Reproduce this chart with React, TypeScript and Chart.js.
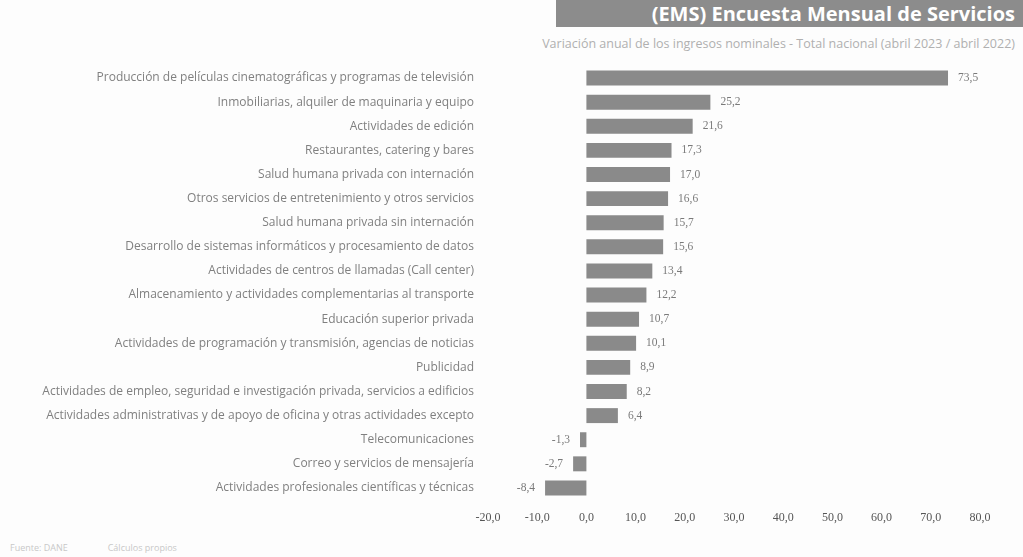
import React, { useEffect, useRef } from "react";
import { Chart, registerables } from "chart.js";

Chart.register(...registerables);

const categories: string[] = [
  "Producción de películas cinematográficas y programas de televisión",
  "Inmobiliarias, alquiler de maquinaria y equipo",
  "Actividades de edición",
  "Restaurantes, catering y bares",
  "Salud humana privada con internación",
  "Otros servicios de entretenimiento y otros servicios",
  "Salud humana privada sin internación",
  "Desarrollo de sistemas informáticos y procesamiento de datos",
  "Actividades de centros de llamadas (Call center)",
  "Almacenamiento y actividades complementarias al transporte",
  "Educación superior privada",
  "Actividades de programación y transmisión, agencias de noticias",
  "Publicidad",
  "Actividades de empleo, seguridad e investigación privada, servicios a edificios",
  "Actividades administrativas y de apoyo de oficina y otras actividades excepto",
  "Telecomunicaciones",
  "Correo y servicios de mensajería",
  "Actividades profesionales científicas y técnicas",
];

const variation: number[] = [
  73.5, 25.2, 21.6, 17.3, 17.0, 16.6, 15.7, 15.6, 13.4, 12.2, 10.7, 10.1, 8.9, 8.2, 6.4, -1.3, -2.7, -8.4,
];

const axisMin = -20;
const axisMax = 80;
const axisStep = 10;

const titleText = "(EMS) Encuesta Mensual de Servicios";
const subtitleText =
  "Variación anual de los ingresos nominales - Total nacional (abril 2023 / abril 2022)";
const sourceText = "Fuente: DANE";
const noteText = "Cálculos propios";

const fmt = (v: number) => v.toFixed(1).replace(".", ",");

const valueLabels = {
  id: "valueLabels",
  afterDatasetsDraw(chart: any) {
    const ctx = chart.ctx;
    const meta = chart.getDatasetMeta(0);
    const data = chart.data.datasets[0].data as number[];
    ctx.save();
    ctx.font = "11.5px 'Liberation Serif'";
    ctx.fillStyle = "#7a7a7a";
    ctx.textBaseline = "middle";
    meta.data.forEach((bar: any, i: number) => {
      const v = data[i];
      if (v >= 0) {
        ctx.textAlign = "left";
        ctx.fillText(fmt(v), bar.x + 10, bar.y);
      } else {
        ctx.textAlign = "right";
        ctx.fillText(fmt(v), bar.x - 10, bar.y);
      }
    });
    ctx.restore();
  },
};

export default function App() {
  const canvasRef = useRef<HTMLCanvasElement | null>(null);

  useEffect(() => {
    document.body.style.margin = "0";
    const canvas = canvasRef.current;
    if (!canvas) return;
    const chart = new Chart(canvas, {
      type: "bar",
      data: {
        labels: categories,
        datasets: [
          {
            data: variation,
            backgroundColor: "#8a8a8a",
            borderWidth: 0,
            barPercentage: 0.62,
            categoryPercentage: 1,
          },
        ],
      },
      options: {
        indexAxis: "y",
        responsive: false,
        animation: false,
        devicePixelRatio: 1,
        layout: { padding: { top: 17, right: 43, left: 0, bottom: 0 } },
        plugins: {
          legend: { display: false },
          tooltip: { enabled: false },
          title: { display: false },
        },
        scales: {
          x: {
            min: axisMin,
            max: axisMax,
            grid: { display: false },
            border: { display: false },
            ticks: {
              stepSize: axisStep,
              color: "#555",
              font: { family: "'Liberation Serif'", size: 12 },
              maxRotation: 0,
              padding: 3,
              callback: (v: any) => fmt(Number(v)),
            },
            afterFit: (s: any) => {
              s.height = 30;
            },
          },
          y: {
            grid: { display: false },
            border: { display: false },
            ticks: {
              color: "#808080",
              font: { family: "'Open Sans'", size: 12 },
              padding: 6,
              autoSkip: false,
            },
            afterFit: (s: any) => {
              s.width = 488;
            },
          },
        },
      },
      plugins: [valueLabels],
    } as any);
    return () => chart.destroy();
  }, []);

  return (
    <div
      style={{
        position: "relative",
        width: 1023,
        height: 557,
        background: "#fdfdfd",
        overflow: "hidden",
        fontFamily: "'Open Sans', sans-serif",
      }}
    >
      <div
        style={{
          position: "absolute",
          left: 556,
          top: 0,
          width: 467,
          height: 27,
          background: "#8c8c8c",
          color: "#fff",
          fontWeight: 700,
          fontSize: 20,
          lineHeight: "27px",
          textAlign: "right",
          paddingRight: 8,
          boxSizing: "border-box",
          whiteSpace: "nowrap",
        }}
      >
        {titleText}
      </div>
      <div
        style={{
          position: "absolute",
          right: 8,
          top: 35,
          fontSize: 12.5,
          color: "#b0b0b0",
          whiteSpace: "nowrap",
        }}
      >
        {subtitleText}
      </div>
      <canvas
        ref={canvasRef}
        width={1023}
        height={481}
        style={{ position: "absolute", left: 0, top: 49, width: 1023, height: 481 }}
      />
      <div
        style={{
          position: "absolute",
          left: 10,
          top: 541,
          fontSize: 9,
          color: "#c8c8c8",
          whiteSpace: "nowrap",
        }}
      >
        {sourceText}
        <span style={{ marginLeft: 40 }}>{noteText}</span>
      </div>
    </div>
  );
}
